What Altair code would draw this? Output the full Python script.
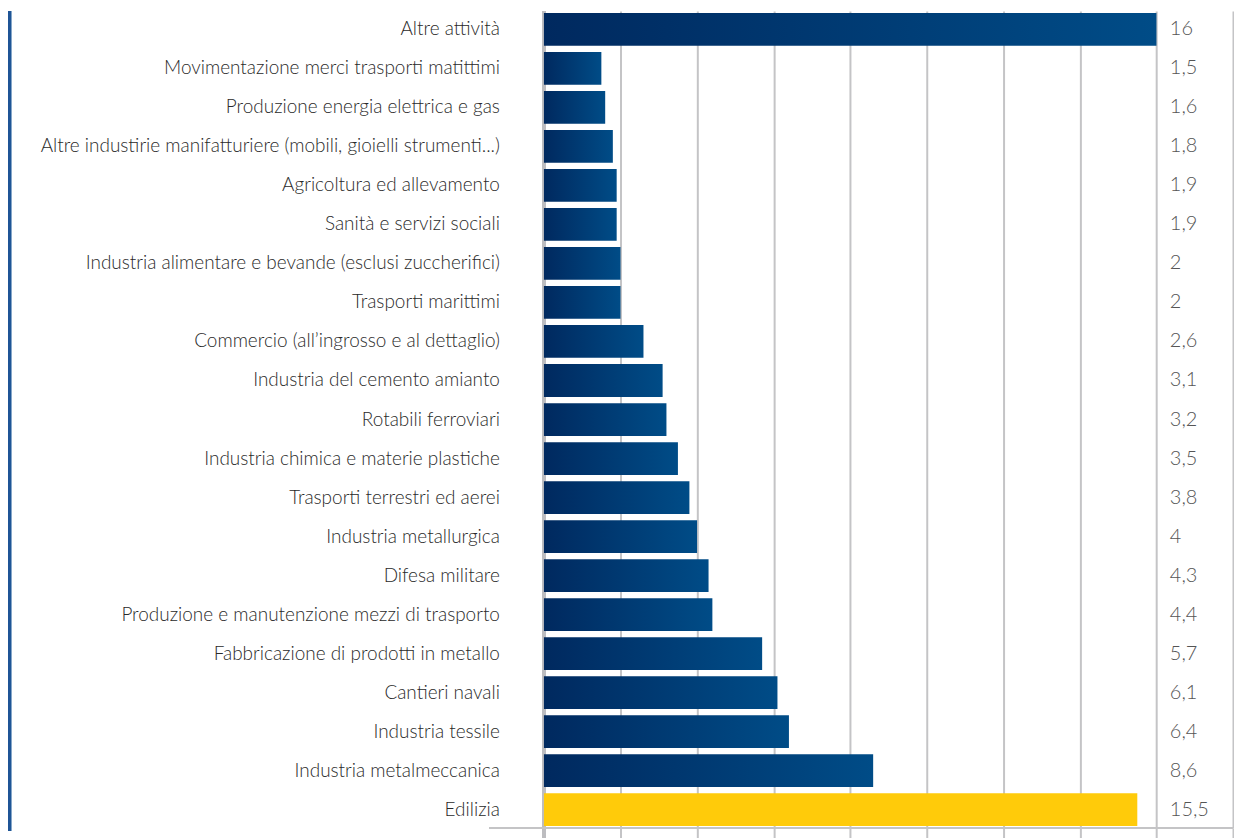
import altair as alt
import pandas as pd

categories = [
    "Altre attività",
    "Movimentazione merci trasporti matittimi",
    "Produzione energia elettrica e gas",
    "Altre industirie manifatturiere (mobili, gioielli strumenti...)",
    "Agricoltura ed allevamento",
    "Sanità e servizi sociali",
    "Industria alimentare e bevande (esclusi zuccherifici)",
    "Trasporti marittimi",
    "Commercio (all’ingrosso e al dettaglio)",
    "Industria del cemento amianto",
    "Rotabili ferroviari",
    "Industria chimica e materie plastiche",
    "Trasporti terrestri ed aerei",
    "Industria metallurgica",
    "Difesa militare",
    "Produzione e manutenzione mezzi di trasporto",
    "Fabbricazione di prodotti in metallo",
    "Cantieri navali",
    "Industria tessile",
    "Industria metalmeccanica",
    "Edilizia",
]
values = [16, 1.5, 1.6, 1.8, 1.9, 1.9, 2, 2, 2.6, 3.1, 3.2, 3.5, 3.8, 4, 4.3, 4.4, 5.7, 6.1, 6.4, 8.6, 15.5]
value_labels = ["16", "1,5", "1,6", "1,8", "1,9", "1,9", "2", "2", "2,6", "3,1", "3,2", "3,5",
                "3,8", "4", "4,3", "4,4", "5,7", "6,1", "6,4", "8,6", "15,5"]
highlight = "Edilizia"
grid_values = [0, 2, 4, 6, 8, 10, 12, 14, 16, 18]

df = pd.DataFrame({"cat": categories, "val": values, "lab": value_labels})
df["hl"] = df["cat"] == highlight

W, H = 1228, 819
FONT = "Lato"

xscale = alt.Scale(domain=[-14, 18], nice=False, zero=False)
yenc = alt.Y("cat:N", sort=categories, axis=None,
             scale=alt.Scale(paddingInner=0.16, paddingOuter=0.05))

base = alt.Chart(df)

grad = alt.Gradient(
    gradient="linear",
    stops=[alt.GradientStop(color="#00295F", offset=0),
           alt.GradientStop(color="#004C87", offset=1)],
    x1=0, x2=1, y1=0, y2=0,
)

bars = base.transform_filter("!datum.hl").mark_bar(color=grad).encode(
    x=alt.X("val:Q", scale=xscale,
            axis=alt.Axis(values=grid_values, grid=True, gridColor="#C4C4C6", gridWidth=2,
                          labels=False, ticks=True, tickSize=12, tickColor="#C4C4C6",
                          tickWidth=2, domain=False, title=None)),
    x2=alt.datum(0),
    y=yenc,
)
bar_hl = base.transform_filter("datum.hl").mark_bar(color="#FFCB0A").encode(
    x=alt.X("val:Q", scale=xscale), x2=alt.datum(0), y=yenc
)

zero_rule = base.mark_rule(color="#BDBDC0", strokeWidth=3).encode(
    x=alt.datum(0), y=alt.value(0), y2=alt.value(H + 12)
)
baseline = base.mark_rule(color="#C4C4C6", strokeWidth=2).encode(
    x=alt.datum(-1.43), x2=alt.datum(18), y=alt.value(H)
)
left_rule = base.mark_rule(color="#1F5596", strokeWidth=3).encode(
    x=alt.datum(-13.96), y=alt.value(0), y2=alt.value(H + 3)
)

cat_text = base.mark_text(align="right", baseline="middle", font=FONT, fontSize=19,
                          fontWeight=300, color="#2A2A2A").encode(
    x=alt.datum(-1.15), y=yenc, text="cat:N"
)
val_text = base.mark_text(align="left", baseline="middle", font=FONT, fontSize=20,
                          fontWeight=300, color="#555555").encode(
    x=alt.datum(16.35), y=yenc, text="lab:N"
)

chart = alt.layer(zero_rule, baseline, left_rule, bars, bar_hl, cat_text, val_text).properties(
    width=W, height=H, padding={"left": 0, "top": 0, "right": 0, "bottom": 0},
    background="white",
).configure_view(stroke=None)

chart.save("out.html", embed_options={"renderer": "svg", "actions": False})
